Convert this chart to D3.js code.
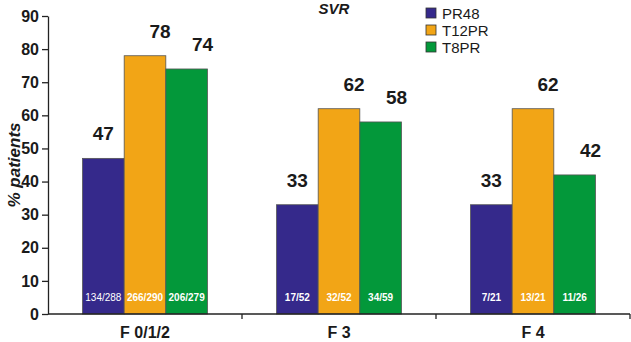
<!DOCTYPE html>
<html lang="en">
<head>
    <meta charset="utf-8">
    <script src="https://d3js.org/d3.v7.min.js"></script>
    <style>
        body { margin: 0; background: #fff; }
        text { font-family: "Liberation Sans", Arial, sans-serif; }
    </style>
</head>
<body>
    <div id="chart"></div>
    <script>
        // data
        const categories = ["F 0/1/2", "F 3", "F 4"];
        const seriesNames = ["PR48", "T12PR", "T8PR"];
        const PR48 = [47, 33, 33];
        const T12PR = [78, 62, 62];
        const T8PR = [74, 58, 42];
        const fractionsPR48 = ["134/288", "17/52", "7/21"];
        const fractionsT12PR = ["266/290", "32/52", "13/21"];
        const fractionsT8PR = ["206/279", "34/59", "11/26"];
        const yTicks = [0, 10, 20, 30, 40, 50, 60, 70, 80, 90];

        const colors = ["#35298b", "#f2a516", "#03983a"];
        const labelShift = [0, 15, 16];   // the value labels sit a bit right of the bar centres

        const values = [PR48, T12PR, T8PR];
        const fractions = [fractionsPR48, fractionsT12PR, fractionsT8PR];

        const W = 631, H = 342;
        const margin = { top: 16, right: 1, bottom: 28, left: 48 };
        const width = W - margin.left - margin.right,
            height = H - margin.top - margin.bottom;

        const svg = d3.select("#chart")
            .append("svg")
            .attr("width", W)
            .attr("height", H)
            .append("g")
            .attr("transform", `translate(${margin.left}, ${margin.top})`);

        const x = d3.scaleBand()
            .domain(categories)
            .range([0, width])
            .paddingInner(0)
            .paddingOuter(0);

        const xInner = d3.scaleBand()
            .domain(seriesNames)
            .range([0, x.bandwidth()])
            .paddingOuter(0.83)
            .paddingInner(0);

        const y = d3.scaleLinear()
            .domain([0, 90])
            .range([height, 0]);

        // table built from the arrays
        const rows = [];
        categories.forEach((c, i) => {
            seriesNames.forEach((s, j) => {
                rows.push({ cat: c, series: s, idx: j, value: values[j][i], frac: fractions[j][i] });
            });
        });

        // bars
        svg.selectAll(".bar")
            .data(rows)
            .join("rect")
            .attr("class", "bar")
            .attr("x", d => x(d.cat) + xInner(d.series))
            .attr("width", xInner.bandwidth())
            .attr("y", d => y(d.value))
            .attr("height", d => y(0) - y(d.value))
            .attr("fill", d => colors[d.idx])
            .attr("stroke", "#555")
            .attr("stroke-width", 0.8);

        // value labels above the bars
        svg.selectAll(".val")
            .data(rows)
            .join("text")
            .attr("class", "val")
            .attr("x", d => x(d.cat) + xInner(d.series) + xInner.bandwidth() / 2 + labelShift[d.idx])
            .attr("y", d => y(d.value) - 18)
            .attr("text-anchor", "middle")
            .style("font-size", "19px")
            .style("font-weight", "bold")
            .attr("fill", "#1a1a1a")
            .text(d => d.value);

        // n/N labels inside the bars
        svg.selectAll(".frac")
            .data(rows)
            .join("text")
            .attr("class", "frac")
            .attr("x", d => x(d.cat) + xInner(d.series) + xInner.bandwidth() / 2)
            .attr("y", y(0) - 13)
            .attr("text-anchor", "middle")
            .style("font-size", "10px")
            .style("font-weight", d => (d.cat === categories[0] && d.idx === 0) ? "normal" : "bold")
            .attr("fill", "#fff")
            .text(d => d.frac);

        // y axis
        const yAxis = svg.append("g")
            .call(d3.axisLeft(y).tickValues(yTicks).tickSize(6).tickSizeOuter(0).tickPadding(3));
        yAxis.select(".domain").attr("stroke", "#222").attr("stroke-width", 1.3);
        yAxis.selectAll(".tick line").attr("stroke", "#222").attr("stroke-width", 1.3);
        yAxis.selectAll("text")
            .style("font-size", "16px")
            .style("font-weight", "bold")
            .attr("fill", "#1a1a1a");

        // x axis: ticks at the band boundaries
        const xAxis = svg.append("g")
            .attr("transform", `translate(0, ${height})`);
        xAxis.append("line")
            .attr("x1", 0).attr("x2", width)
            .attr("stroke", "#222").attr("stroke-width", 1.3);
        xAxis.selectAll(".xtick")
            .data(categories)
            .join("line")
            .attr("class", "xtick")
            .attr("x1", d => x(d) + x.bandwidth())
            .attr("x2", d => x(d) + x.bandwidth())
            .attr("y1", 0).attr("y2", 5)
            .attr("stroke", "#222").attr("stroke-width", 1.3);
        xAxis.selectAll(".xlab")
            .data(categories)
            .join("text")
            .attr("class", "xlab")
            .attr("x", d => x(d) + x.bandwidth() / 2)
            .attr("y", 24)
            .attr("text-anchor", "middle")
            .style("font-size", "16px")
            .style("font-weight", "bold")
            .attr("fill", "#1a1a1a")
            .text(d => d);

        // y axis title
        svg.append("text")
            .attr("transform", "rotate(-90)")
            .attr("x", -(height / 2))
            .attr("y", -margin.left + 20)
            .attr("text-anchor", "middle")
            .style("font-size", "17px")
            .style("font-weight", "bold")
            .style("font-style", "italic")
            .attr("fill", "#1a1a1a")
            .text("% patients");

        // chart title
        svg.append("text")
            .attr("x", 334 - margin.left)
            .attr("y", 14 - margin.top)
            .attr("text-anchor", "middle")
            .style("font-size", "15px")
            .style("font-weight", "bold")
            .style("font-style", "italic")
            .attr("fill", "#1a1a1a")
            .text("SVR");

        // legend
        const legend = svg.append("g")
            .attr("transform", `translate(${426 - margin.left}, ${8 - margin.top})`);
        seriesNames.forEach((s, i) => {
            const g = legend.append("g").attr("transform", `translate(0, ${i * 17})`);
            g.append("rect")
                .attr("width", 10).attr("height", 10)
                .attr("fill", colors[i])
                .attr("stroke", "#333").attr("stroke-width", 0.8);
            g.append("text")
                .attr("x", 16).attr("y", 10.5)
                .style("font-size", "15px")
                .attr("fill", "#1a1a1a")
                .text(s);
        });
    </script>
</body>
</html>
